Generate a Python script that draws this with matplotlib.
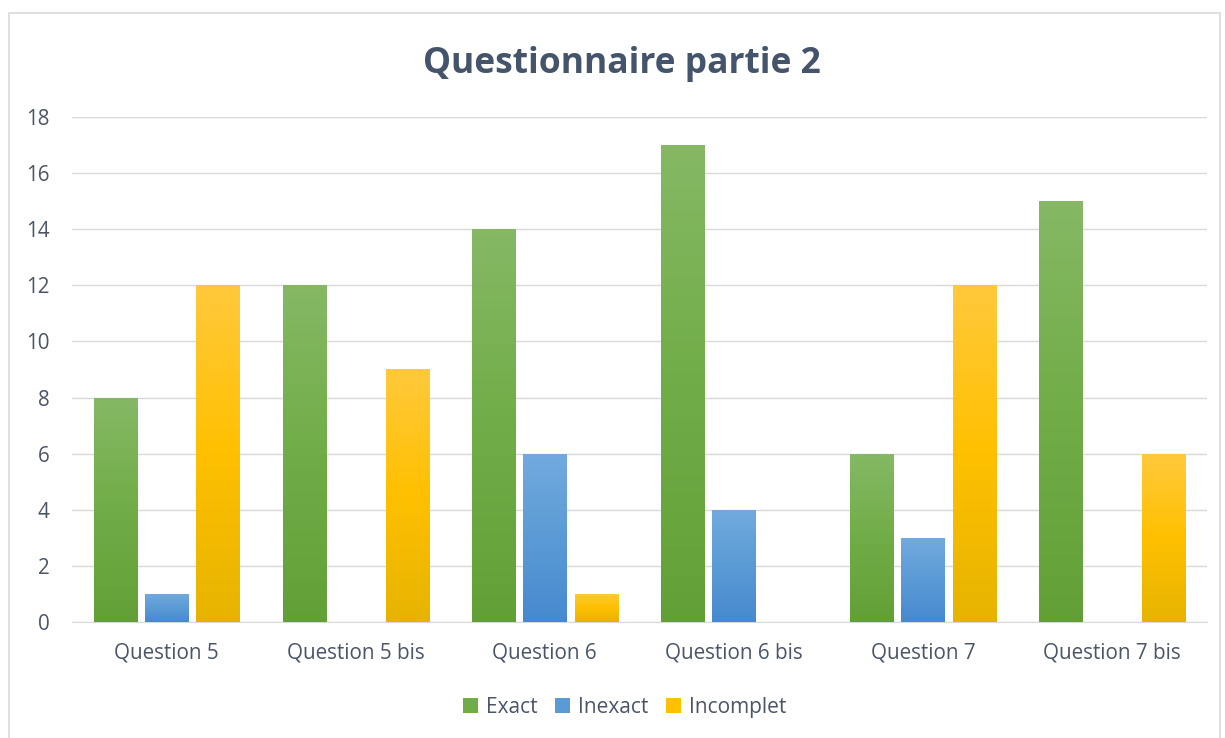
import numpy as np
import matplotlib.pyplot as plt
from matplotlib.colors import LinearSegmentedColormap
from matplotlib.patches import Rectangle, Patch

plt.rcParams['font.family'] = ['Open Sans', 'DejaVu Sans']

questions = ['Question 5', 'Question 5 bis', 'Question 6', 'Question 6 bis', 'Question 7', 'Question 7 bis']
exact = [8, 12, 14, 17, 6, 15]
inexact = [1, 0, 6, 4, 3, 0]
incomplet = [12, 9, 1, 0, 12, 6]
series_names = ['Exact', 'Inexact', 'Incomplet']

# couleurs en degrade (bas -> haut)
gradients = [
    ['#62A037', '#70AD47', '#86B865'],
    ['#4689CF', '#5B9BD5', '#72AADF'],
    ['#E6B400', '#FFC000', '#FFC93C'],
]
legend_colors = ['#70AD47', '#5B9BD5', '#FFC000']

fig = plt.figure(figsize=(12.25, 7.38), dpi=100)
fig.patches.append(Rectangle((0.007, -0.01), 0.989, 0.992, transform=fig.transFigure,
                             fill=False, edgecolor='#D9D9D9', linewidth=1.2))
ax = fig.add_axes([0.0588, 0.1572, 0.9262, 0.6843])

x = np.arange(len(questions))
width = 0.228
offset = 0.272
grad = np.linspace(0, 1, 256).reshape(-1, 1)

for i, vals in enumerate([exact, inexact, incomplet]):
    cmap = LinearSegmentedColormap.from_list('g%d' % i, gradients[i])
    bars = ax.bar(x + (i - 1) * offset, vals, width, color='none', edgecolor='none', zorder=3)
    for b, v in zip(bars, vals):
        if v == 0:
            continue
        x0, y0 = b.get_x(), b.get_y()
        im = ax.imshow(grad, cmap=cmap, origin='lower', aspect='auto',
                       extent=[x0, x0 + b.get_width(), y0, y0 + b.get_height()], zorder=3)
        im.set_clip_path(b)

ax.set_xlim(-0.5, len(questions) - 0.5)
ax.set_ylim(0, 18)
ax.set_yticks(range(0, 19, 2))
ax.set_xticks(x)
ax.set_xticklabels(questions)
ax.tick_params(axis='both', length=0, labelsize=14.9, colors='#595959', labelcolor='#4A5568')
ax.tick_params(axis='x', pad=15)
ax.tick_params(axis='y', pad=16)
ax.grid(axis='y', color='#D9D9D9', linewidth=1, zorder=0)
for s in ['top', 'right', 'left']:
    ax.spines[s].set_visible(False)
ax.spines['bottom'].set_color('#D9D9D9')

fig.text(0.508, 0.913, 'Questionnaire partie 2', ha='center', va='center',
         fontsize=25.5, fontweight='bold', color='#44546A')

handles = [Patch(facecolor=c) for c in legend_colors]
fig.legend(handles, series_names, loc='center', bbox_to_anchor=(0.51, 0.042), ncol=3,
           frameon=False, fontsize=15, handlelength=0.7, handleheight=0.7,
           handletextpad=0.4, columnspacing=0.85, labelcolor='#4A5568')

fig.savefig('out.png', dpi=100)
